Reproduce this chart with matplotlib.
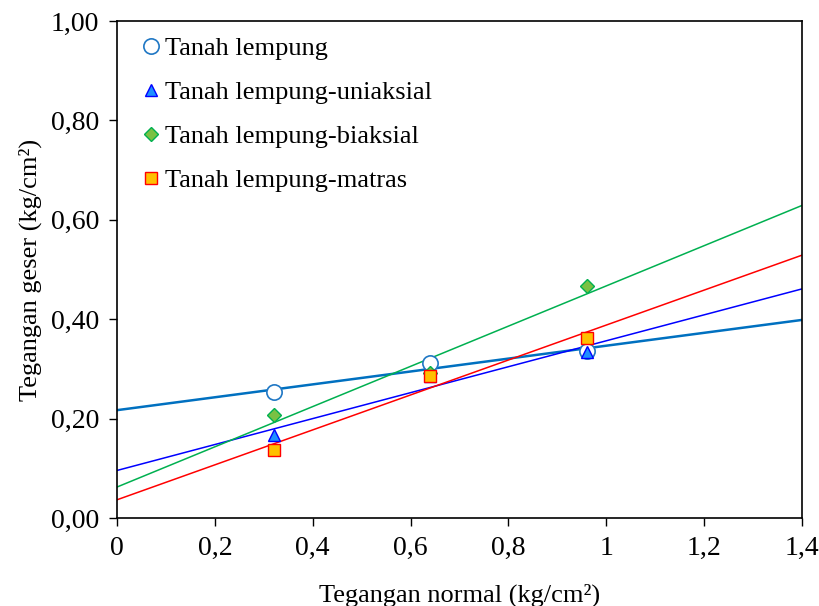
import numpy as np
import matplotlib.pyplot as plt

plt.rcParams['font.family'] = ['Liberation Serif', 'DejaVu Serif']

# datos
x = [0.32, 0.64, 0.96]
lempung = [0.253, 0.311, 0.336]
uniaksial = [0.168, 0.285, 0.335]
biaksial = [0.207, 0.291, 0.466]
matras = [0.137, 0.286, 0.362]
nombres = ['Tanah lempung', 'Tanah lempung-uniaksial',
           'Tanah lempung-biaksial', 'Tanah lempung-matras']
xticks = [0, 0.2, 0.4, 0.6, 0.8, 1.0, 1.2, 1.4]
xtick_labels = ['0', '0,2', '0,4', '0,6', '0,8', '1', '1,2', '1,4']
yticks = [0, 0.2, 0.4, 0.6, 0.8, 1.0]
ytick_labels = ['0,00', '0,20', '0,40', '0,60', '0,80', '1,00']

fig = plt.figure(figsize=(8.2, 6.06), dpi=100)
ax = fig.add_axes([0.1427, 0.1452, 0.8353, 0.8201])

estilos = [
    dict(marker='o', mfc='white', mec='#1f77c4', ms=11, mew=1.2, lc='#0070c0', lw=1.8),
    dict(marker='^', mfc='#1e90ff', mec='#0000ff', ms=8, mew=1.0, lc='#0000ff', lw=1.1),
    dict(marker='D', mfc='#7ac143', mec='#00b050', ms=7, mew=1.0, lc='#00b050', lw=1.1),
    dict(marker='s', mfc='#ffc000', mec='#ff0000', ms=8, mew=1.0, lc='#ff0000', lw=1.1),
]
series = [lempung, uniaksial, biaksial, matras]

xl = np.array([0, 1.4])
# lineas de tendencia primero
for y, e in zip(series, estilos):
    m, b = np.polyfit(x, y, 1)
    ax.plot(xl, m * xl + b, color=e['lc'], lw=e['lw'], zorder=2)

for y, e, n in zip(series, estilos, nombres):
    ax.plot(x, y, linestyle='none', marker=e['marker'], mfc=e['mfc'], mec=e['mec'],
            ms=e['ms'], mew=e['mew'], label=n, zorder=3)

ax.set_xlim(0, 1.4)
ax.set_ylim(0, 1.0)
ax.set_xticks(xticks)
ax.set_xticklabels(xtick_labels)
ax.set_yticks(yticks)
ax.set_yticklabels(ytick_labels)
ax.tick_params(direction='out', labelsize=20, length=6, width=1, pad=7)
for s in ax.spines.values():
    s.set_linewidth(1.2)

ax.set_xlabel('Tegangan normal (kg/cm²)', fontsize=19, labelpad=16)
ax.set_ylabel('Tegangan geser (kg/cm²)', fontsize=19, labelpad=6)

ax.legend(loc='upper left', bbox_to_anchor=(0.02, 0.99), frameon=False, fontsize=19,
          handlelength=0.7, handletextpad=0.2, labelspacing=0.78, borderaxespad=0)

fig.savefig('out.png', dpi=100)
